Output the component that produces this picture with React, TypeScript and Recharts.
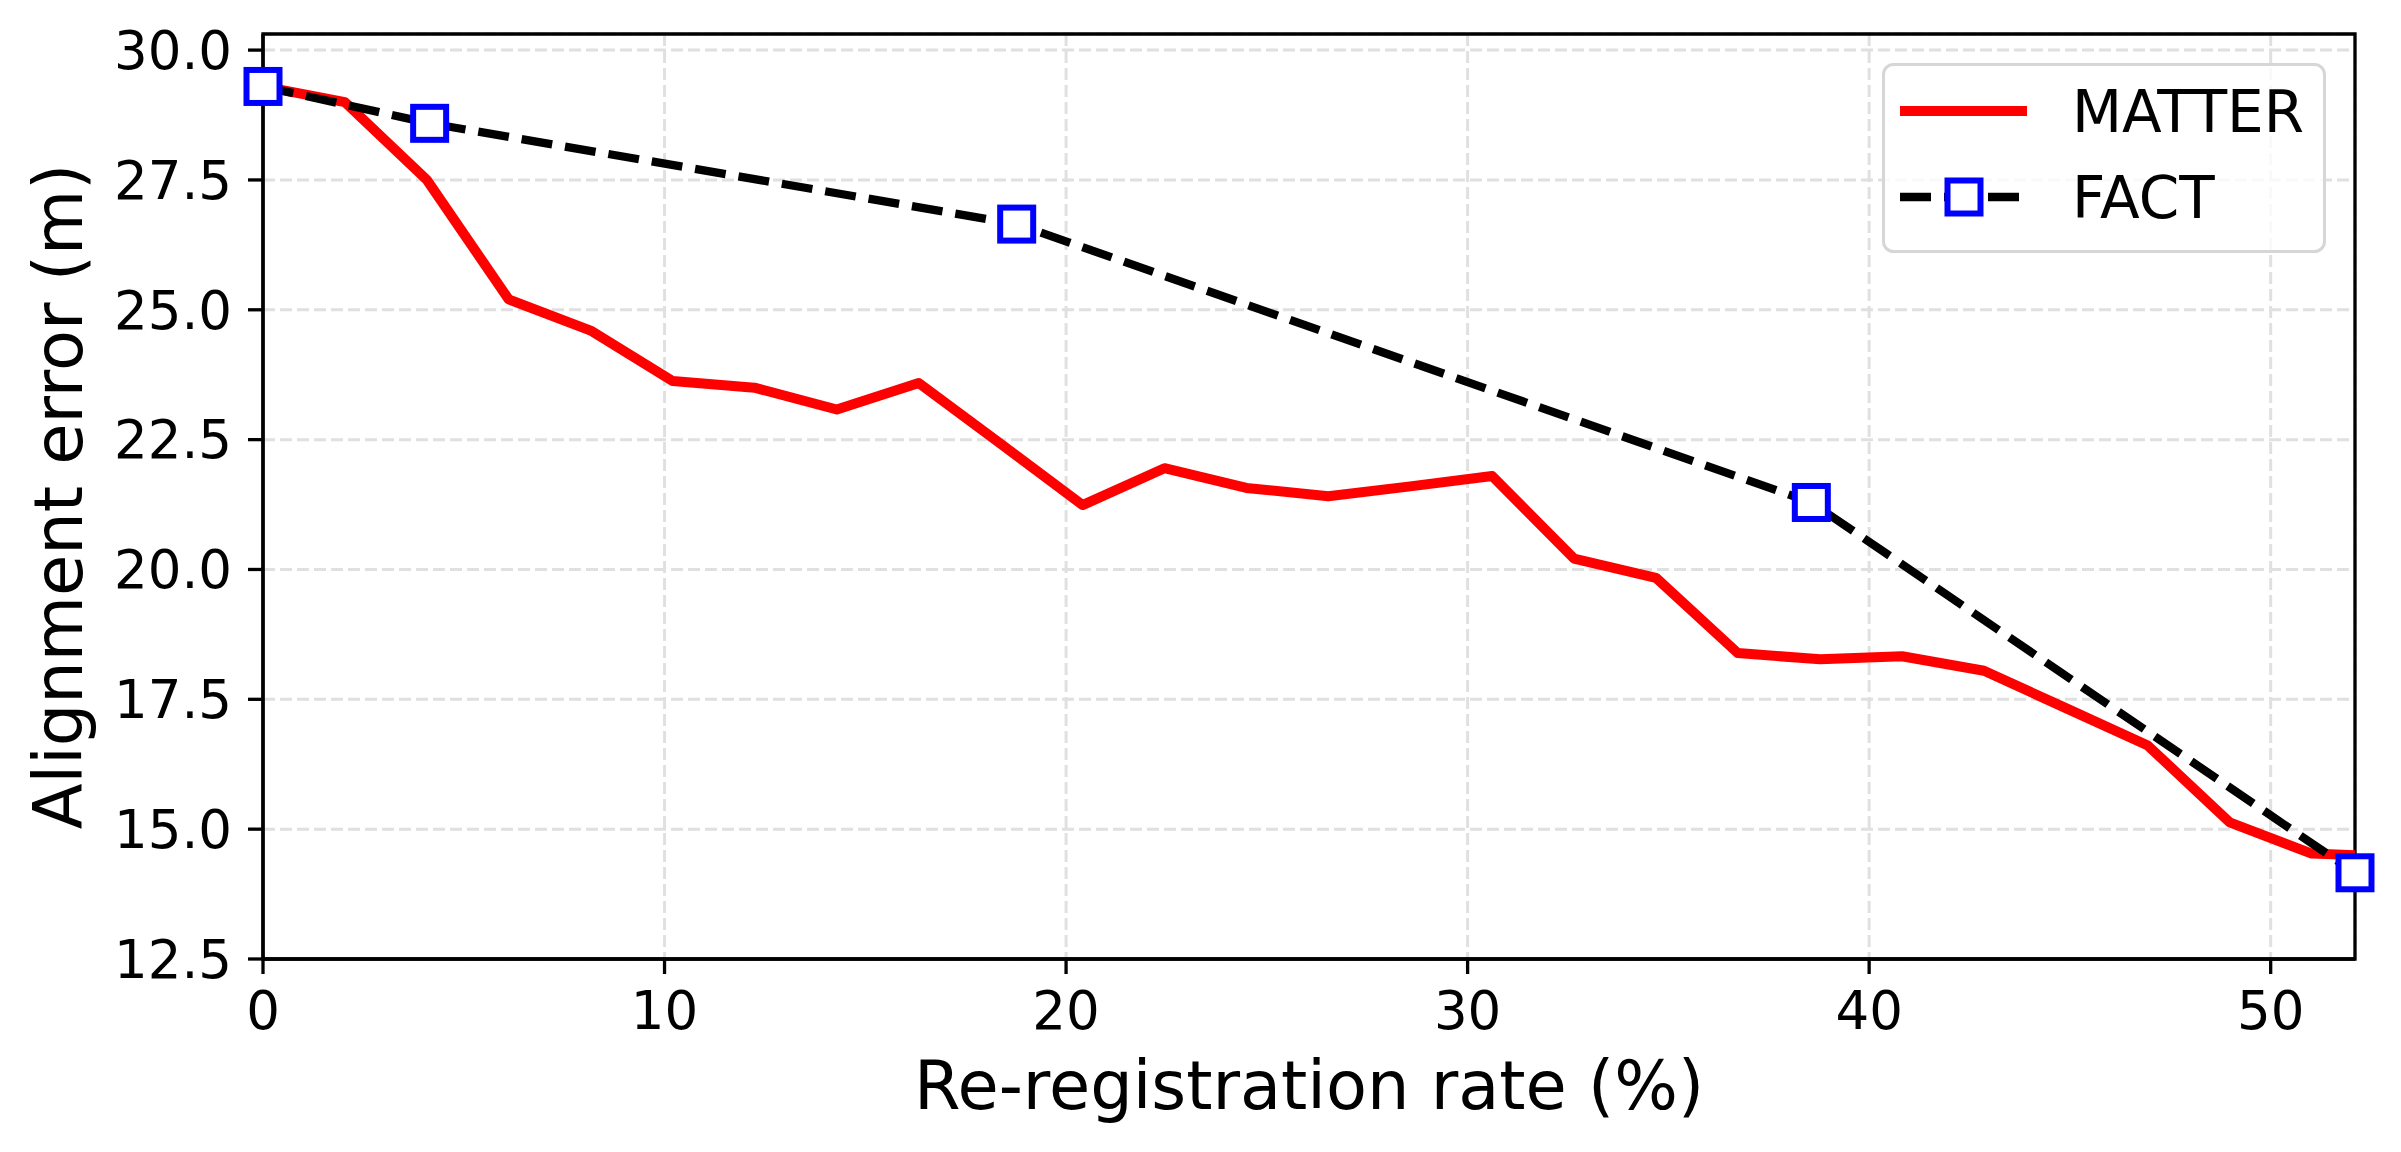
import {
  LineChart,
  Line,
  XAxis,
  YAxis,
  CartesianGrid,
  Legend,
  ReferenceArea,
  Label,
} from "recharts";

const matterX = [
  0, 2.04, 4.08, 6.12, 8.16, 10.2, 12.24, 14.29, 16.33, 18.37, 20.41, 22.45, 24.49, 26.53,
  28.57, 30.61, 32.65, 34.69, 36.73, 38.78, 40.82, 42.86, 44.9, 46.94, 48.98, 51.02, 52.1,
];
const matterY = [
  29.3, 29.0, 27.5, 25.2, 24.6, 23.63, 23.5, 23.08, 23.59, 22.42, 21.24, 21.95, 21.57, 21.41,
  21.6, 21.8, 20.21, 19.84, 18.39, 18.27, 18.33, 18.05, 17.33, 16.61, 15.13, 14.53, 14.5,
];
const factX = [0, 4.15, 18.77, 38.56, 52.1];
const factY = [29.3, 28.59, 26.65, 21.29, 14.16];

const xTicks = [0, 10, 20, 30, 40, 50];
const yTicks = [12.5, 15, 17.5, 20, 22.5, 25, 27.5, 30];
const X_MAX = 52.1;
const Y_MIN = 12.5;
const Y_MAX = 30.31;

const FONT = "'DejaVu Sans', sans-serif";
const RED = "#ff0000";
const BLUE = "#0000ff";

const matterData = matterX.map((x, i) => ({ x, y: matterY[i] }));
const factData = factX.map((x, i) => ({ x, y: factY[i] }));

function SquareDot(props: any) {
  const { cx, cy, index } = props;
  if (cx == null || cy == null) return null;
  const s = 33;
  return (
    <rect
      key={index}
      x={cx - s / 2}
      y={cy - s / 2}
      width={s}
      height={s}
      fill="#fff"
      stroke={BLUE}
      strokeWidth={6}
    />
  );
}

function LegendBox() {
  return (
    <svg width={444} height={190} style={{ display: "block" }}>
      <rect
        x={1.5}
        y={1.5}
        width={441}
        height={187}
        rx={10}
        fill="#fff"
        fillOpacity={0.8}
        stroke="#d6d6d6"
        strokeWidth={3}
      />
      <line x1={18} x2={145} y1={48} y2={48} stroke={RED} strokeWidth={10} />
      <text x={190} y={69} fontSize={58} fontFamily={FONT} fill="#000">
        MATTER
      </text>
      <line
        x1={18}
        x2={145}
        y1={134}
        y2={134}
        stroke="#000"
        strokeWidth={8.3}
        strokeDasharray="31 13"
      />
      <rect x={82 - 16.5} y={134 - 16.5} width={33} height={33} fill="#fff" stroke={BLUE} strokeWidth={6} />
      <text x={190} y={155} fontSize={58} fontFamily={FONT} fill="#000">
        FACT
      </text>
    </svg>
  );
}

export default function App() {
  const tickStyle = { fill: "#000", fontSize: 53, fontFamily: FONT };
  return (
    <div style={{ width: 2401, height: 1152, background: "#fff" }}>
      <style>{"body{margin:0;background:#fff}"}</style>
      <LineChart
        width={2401}
        height={1152}
        margin={{ top: 34, right: 46, left: 0, bottom: 0 }}
      >
        <CartesianGrid stroke="#e0e0e0" strokeWidth={3} strokeDasharray="12 5" />
        <XAxis
          type="number"
          dataKey="x"
          domain={[0, X_MAX]}
          ticks={xTicks}
          height={193}
          tick={tickStyle}
          tickSize={15}
          tickMargin={17}
          axisLine={{ stroke: "#000", strokeWidth: 3.3 }}
          tickLine={{ stroke: "#000", strokeWidth: 3.3 }}
        >
          <Label
            content={(p: any) => {
              const vb = p.viewBox || { x: 263, y: 959, width: 2092, height: 193 };
              return (
                <text
                  x={vb.x + vb.width / 2}
                  y={vb.y + 150}
                  textAnchor="middle"
                  fontSize={67}
                  fontFamily={FONT}
                  fill="#000"
                >
                  Re-registration rate (%)
                </text>
              );
            }}
          />
        </XAxis>
        <YAxis
          type="number"
          domain={[Y_MIN, Y_MAX]}
          ticks={yTicks}
          width={263}
          tick={tickStyle}
          tickFormatter={(v: number) => v.toFixed(1)}
          tickSize={15}
          tickMargin={16}
          axisLine={{ stroke: "#000", strokeWidth: 3.3 }}
          tickLine={{ stroke: "#000", strokeWidth: 3.3 }}
        >
          <Label
            content={(p: any) => {
              const vb = p.viewBox || { x: 0, y: 34, width: 263, height: 925 };
              const cy = vb.y + vb.height / 2;
              return (
                <text
                  x={82}
                  y={cy}
                  transform={`rotate(-90 82 ${cy})`}
                  textAnchor="middle"
                  fontSize={67}
                  fontFamily={FONT}
                  fill="#000"
                >
                  Alignment error (m)
                </text>
              );
            }}
          />
        </YAxis>
        <ReferenceArea
          x1={0}
          x2={X_MAX}
          y1={Y_MIN}
          y2={Y_MAX}
          fill="none"
          stroke="#000"
          strokeWidth={3.3}
          ifOverflow="visible"
        />
        <Line
          data={matterData}
          dataKey="y"
          name="MATTER"
          type="linear"
          stroke={RED}
          strokeWidth={10}
          strokeLinejoin="round"
          dot={false}
          activeDot={false}
          isAnimationActive={false}
        />
        <Line
          data={factData}
          dataKey="y"
          name="FACT"
          type="linear"
          stroke="#000"
          strokeWidth={8.3}
          strokeDasharray="31 13"
          dot={<SquareDot />}
          activeDot={false}
          isAnimationActive={false}
        />
        <Legend
          layout="horizontal"
          verticalAlign="middle"
          align="center"
          wrapperStyle={{ left: 1882, top: 63, width: 444, height: 190 }}
          content={() => <LegendBox />}
        />
      </LineChart>
    </div>
  );
}
